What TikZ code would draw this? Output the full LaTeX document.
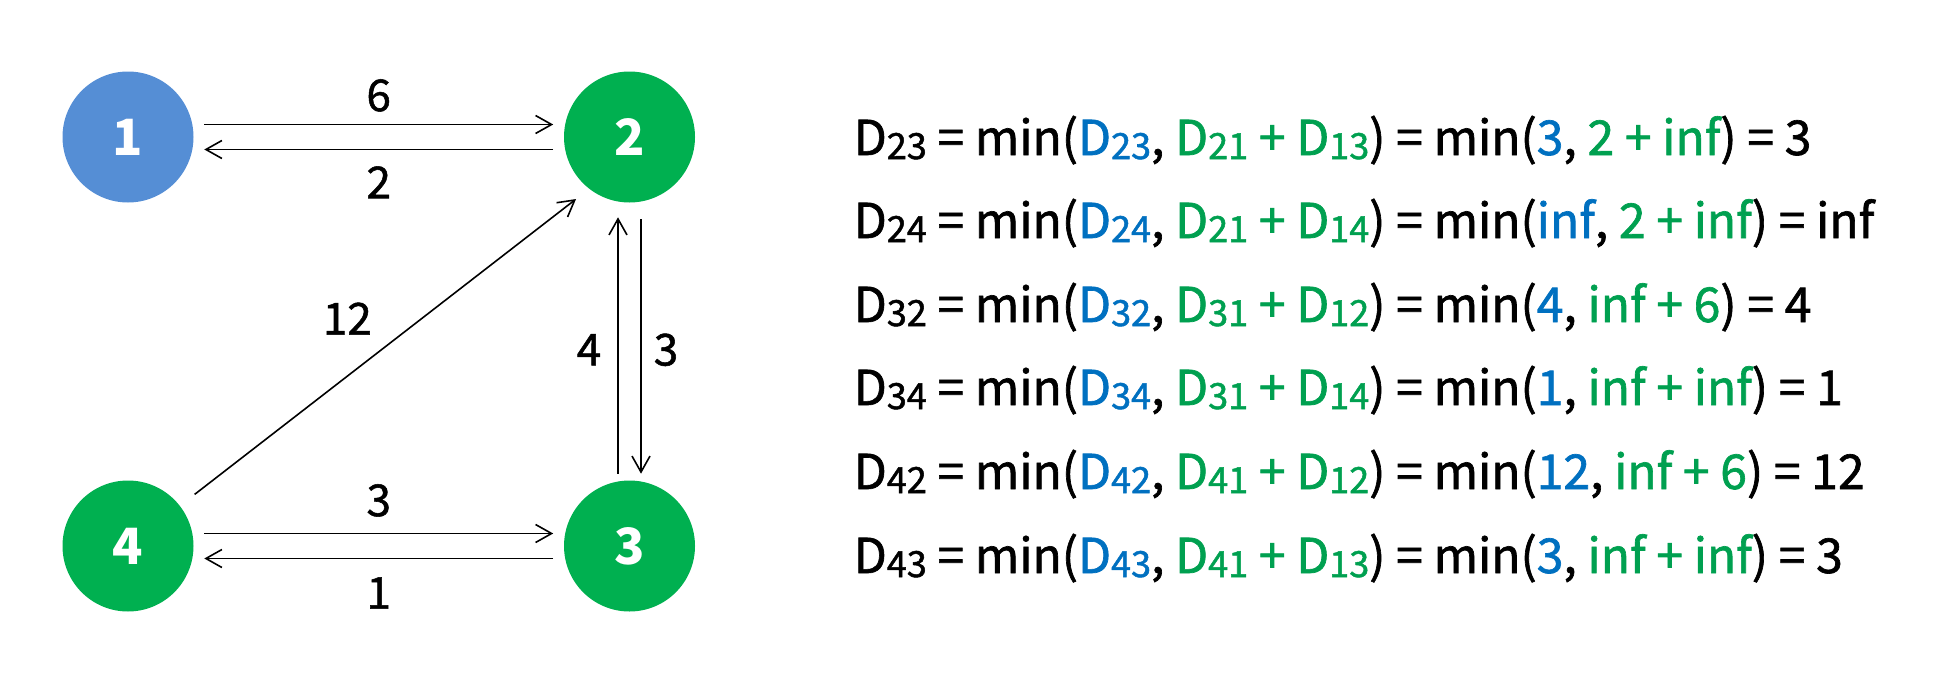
\documentclass[tikz,border=0pt]{standalone}
\usepackage{fontspec}
\setmainfont{Noto Sans CJK KR}
\usetikzlibrary{positioning, arrows.meta}

\definecolor{nodeblue}{HTML}{558ED5}
\definecolor{nodegreen}{HTML}{00B050}
\definecolor{txtblue}{HTML}{0070C0}
\definecolor{txtgreen}{HTML}{00A050}

\newcommand{\Dsub}[1]{D\raisebox{-2pt}{\fontsize{18}{18}\selectfont #1}}
\newcommand{\blu}[1]{\textcolor{txtblue}{#1}}
\newcommand{\grn}[1]{\textcolor{txtgreen}{#1}}

\tikzset{
    vtx/.style={circle, minimum size=65.5pt, inner sep=0pt, text=white,
        font=\fontsize{25}{25}\selectfont\bfseries},
    wlabel/.style={font=\fontsize{22}{22}\selectfont\addfontfeatures{FakeBold=1.2}, inner sep=6pt},
    eqn/.style={anchor=base west, inner sep=0pt,
        font=\fontsize{24}{24}\selectfont\addfontfeatures{FakeBold=1.4}}
}

\begin{document}
\begin{tikzpicture}[x=0.5pt, y=-0.5pt, auto, line width=0.8pt,
    >={Straight Barb[length=8pt, width=9pt]}, shorten >=5pt, shorten <=5pt]
    \useasboundingbox (0,0) rectangle (1950,680);

    \node[vtx, fill=nodeblue] (v1) at (128,137) {1};
    \node[vtx, fill=nodegreen] (v2) at (629.5,137) {2};
    \node[vtx, fill=nodegreen] (v3) at (629.5,546) {3};
    \node[vtx, fill=nodegreen] (v4) at (128,546) {4};

    \path[->, every node/.style={wlabel}]
    ([yshift=6.25pt]v1.east) edge node {6} ([yshift=6.25pt]v2.west)
    ([yshift=-6.25pt]v2.west) edge node[inner sep=8pt] {2} ([yshift=-6.25pt]v1.east)
    ([xshift=5.75pt]v2.south) edge[shorten <=8pt, shorten >=3pt] node[pos=0.53] {3} ([xshift=5.75pt]v3.north)
    ([xshift=-5.75pt]v3.north) edge[shorten <=3pt, shorten >=7pt] node[pos=0.47, inner sep=8pt] {4} ([xshift=-5.75pt]v2.south)
    (v4) edge[shorten <=9pt, shorten >=8pt] node {12} (v2.232)
    ([yshift=6.25pt]v4.east) edge node[inner sep=8pt] {3} ([yshift=6.25pt]v3.west)
    ([yshift=-6.25pt]v3.west) edge node[inner sep=9pt] {1} ([yshift=-6.25pt]v4.east);

    % equations
    \node[eqn] (e1) at (853,155) {\Dsub{23} = min(\blu{\Dsub{23}}, \grn{\Dsub{21} + \Dsub{13}}) = min(\blu{3}, \grn{2 + inf}) = 3};
    \node[eqn] (e2) at (853,238) {\Dsub{24} = min(\blu{\Dsub{24}}, \grn{\Dsub{21} + \Dsub{14}}) = min(\blu{inf}, \grn{2 + inf}) = inf};
    \node[eqn] (e3) at (853,322) {\Dsub{32} = min(\blu{\Dsub{32}}, \grn{\Dsub{31} + \Dsub{12}}) = min(\blu{4}, \grn{inf + 6}) = 4};
    \node[eqn] (e4) at (853,405) {\Dsub{34} = min(\blu{\Dsub{34}}, \grn{\Dsub{31} + \Dsub{14}}) = min(\blu{1}, \grn{inf + inf}) = 1};
    \node[eqn] (e5) at (853,489) {\Dsub{42} = min(\blu{\Dsub{42}}, \grn{\Dsub{41} + \Dsub{12}}) = min(\blu{12}, \grn{inf + 6}) = 12};
    \node[eqn] (e6) at (853,573) {\Dsub{43} = min(\blu{\Dsub{43}}, \grn{\Dsub{41} + \Dsub{13}}) = min(\blu{3}, \grn{inf + inf}) = 3};
\end{tikzpicture}
\end{document}
